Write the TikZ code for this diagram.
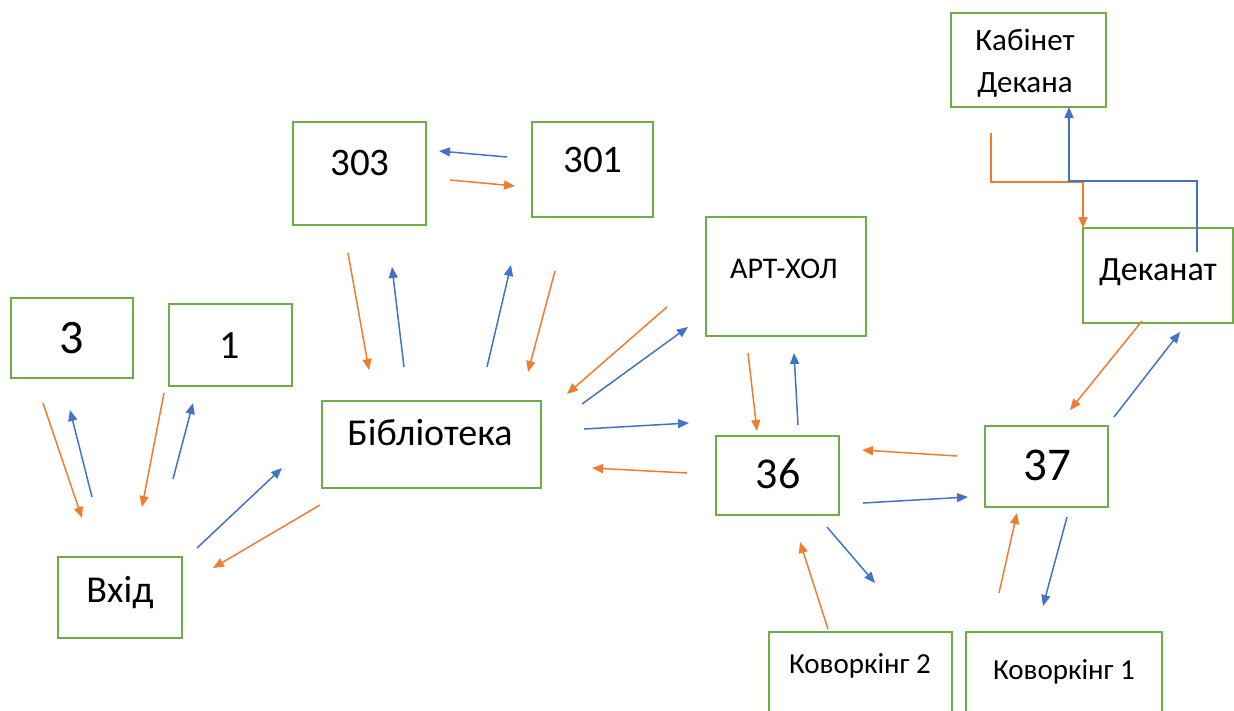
\documentclass[tikz,border=0pt]{standalone}
\usepackage{fontspec}
\setmainfont{Carlito}
\usetikzlibrary{arrows.meta}
\definecolor{roomgreen}{HTML}{70AD47}
\definecolor{goblue}{HTML}{4472C4}
\definecolor{backorange}{HTML}{ED7D31}

% a room: name, left, top, right, bottom (pixel-like units)
\newcommand\roombox[5]{%
  \node[room, minimum width={#4-#2}, minimum height={#5-#3}]
    (#1) at ({(#2+#4)/2},{(#3+#5)/2}) {};}
% a free-standing arrow between two named points
\newcommand\flowline[4]{%
  \coordinate (#2-from) at (#3);
  \coordinate (#2-to) at (#4);
  \draw[#1] (#2-from) -- (#2-to);}

\begin{document}
\begin{tikzpicture}[x=1pt,y=-1pt,
  room/.style={draw=roomgreen, line width=1.8pt, inner sep=0pt},
  lbl/.style={anchor=base, inner sep=0pt, text=black},
  flow/.style={line width=1.5pt, -{Triangle[length=11pt,width=9pt]}},
  bluef/.style={flow, draw=goblue},
  orangef/.style={flow, draw=backorange}]
\useasboundingbox (0,0) rectangle (1234,710);
\clip (0,0) rectangle (1234,710);
\fill[white] (0,0) rectangle (1234,710);

% rooms
\roombox{r3}{11}{298}{133}{378}
\roombox{r1}{169}{304}{292}{386}
\roombox{entry}{58}{557}{182}{638}
\roombox{lib}{322}{401}{541}{488}
\roombox{r303}{293}{122}{426}{225}
\roombox{r301}{532}{122}{653}{217}
\roombox{art}{706}{217}{866}{336}
\roombox{r36}{716}{436}{839}{515}
\roombox{dean}{951}{13}{1106}{107}
\roombox{office}{1083}{228}{1233}{323}
\roombox{r37}{985}{426}{1108}{507}
\roombox{cow2}{769}{632}{952}{720}
\roombox{cow1}{966}{632}{1162}{720}

% room titles
\node[lbl, font=\fontsize{48}{56}\selectfont] (t3) at (72,353) {3};
\node[lbl, font=\fontsize{40}{48}\selectfont] (t1) at (230,358) {1};
\node[lbl, font=\fontsize{38}{46}\selectfont] (tentry) at (120,602) {Вхід};
\node[lbl, font=\fontsize{38}{44}\selectfont] (tlib) at (430,445) {Бібліотека};
\node[lbl, font=\fontsize{39}{46}\selectfont] (t303) at (360,175) {303};
\node[lbl, font=\fontsize{39}{46}\selectfont] (t301) at (593,172) {301};
\node[lbl, font=\fontsize{30}{35}\selectfont] (tart) at (784,278) {АРТ-ХОЛ};
\node[lbl, font=\fontsize{44}{52}\selectfont] (t36) at (778,488) {36};
\node[lbl, font=\fontsize{47}{56}\selectfont] (t37) at (1047,480) {37};
\node[lbl, font=\fontsize{31}{36}\selectfont] (tdeanA) at (1025,50) {Кабінет};
\node[lbl, font=\fontsize{31}{36}\selectfont] (tdeanB) at (1025,92) {Декана};
\node[lbl, font=\fontsize{34}{40}\selectfont] (toffice) at (1158,280) {Деканат};
\node[lbl, font=\fontsize{29}{35}\selectfont] (tcow2) at (860,673) {Коворкінг 2};
\node[lbl, font=\fontsize{29}{35}\selectfont] (tcow1) at (1064,679) {Коворкінг 1};

% entrance and rooms 3, 1
\flowline{orangef}{r3-entry}{43,403}{82,518}
\flowline{bluef}{entry-r3}{92,497}{70,410}
\flowline{orangef}{r1-entry}{164,393}{142,507}
\flowline{bluef}{entry-r1}{173,479}{193,403}
\flowline{bluef}{entry-lib}{197,548}{282,468}
\flowline{orangef}{lib-entry}{320,505}{213,568}

% library and rooms 303, 301
\flowline{orangef}{r303-lib}{348,253}{369,370}
\flowline{bluef}{lib-r303}{404,367}{392,267}
\flowline{bluef}{lib-r301}{487,367}{511,265}
\flowline{orangef}{r301-lib}{555,271}{528,372}
\flowline{bluef}{r301-r303}{507,157}{439,151}
\flowline{orangef}{r303-r301}{450,180}{515,186}

% library, art hall and 36
\flowline{orangef}{art-lib}{667,307}{567,394}
\flowline{bluef}{lib-art}{582,404}{688,327}
\flowline{bluef}{lib-r36}{584,429}{689,423}
\flowline{orangef}{r36-lib}{687,473}{592,468}
\flowline{orangef}{art-r36}{748,353}{757,431}
\flowline{bluef}{r36-art}{798,425}{794,353}

% 36, 37 and coworking rooms
\flowline{orangef}{r37-r36}{957,456}{862,450}
\flowline{bluef}{r36-r37}{863,503}{968,497}
\flowline{bluef}{r36-cow2}{827,527}{875,583}
\flowline{orangef}{cow2-r36}{828,629}{800,542}
\flowline{orangef}{cow1-r37}{999,593}{1017,513}
\flowline{bluef}{r37-cow1}{1067,517}{1043,606}

% 37 and dean's office
\flowline{orangef}{office-r37}{1142,321}{1070,410}
\flowline{bluef}{r37-office}{1114,417}{1180,332}

% dean's office and the dean's room (elbow routes)
\coordinate (dean-out) at (991,133);
\coordinate (office-in) at (1083,228);
\draw[orangef] (dean-out) |- (1083,182) -- (office-in);
\coordinate (office-out) at (1197,252);
\coordinate (dean-in) at (1069,107);
\draw[bluef] (office-out) |- (1069,181) -- (dean-in);
\end{tikzpicture}
\end{document}
